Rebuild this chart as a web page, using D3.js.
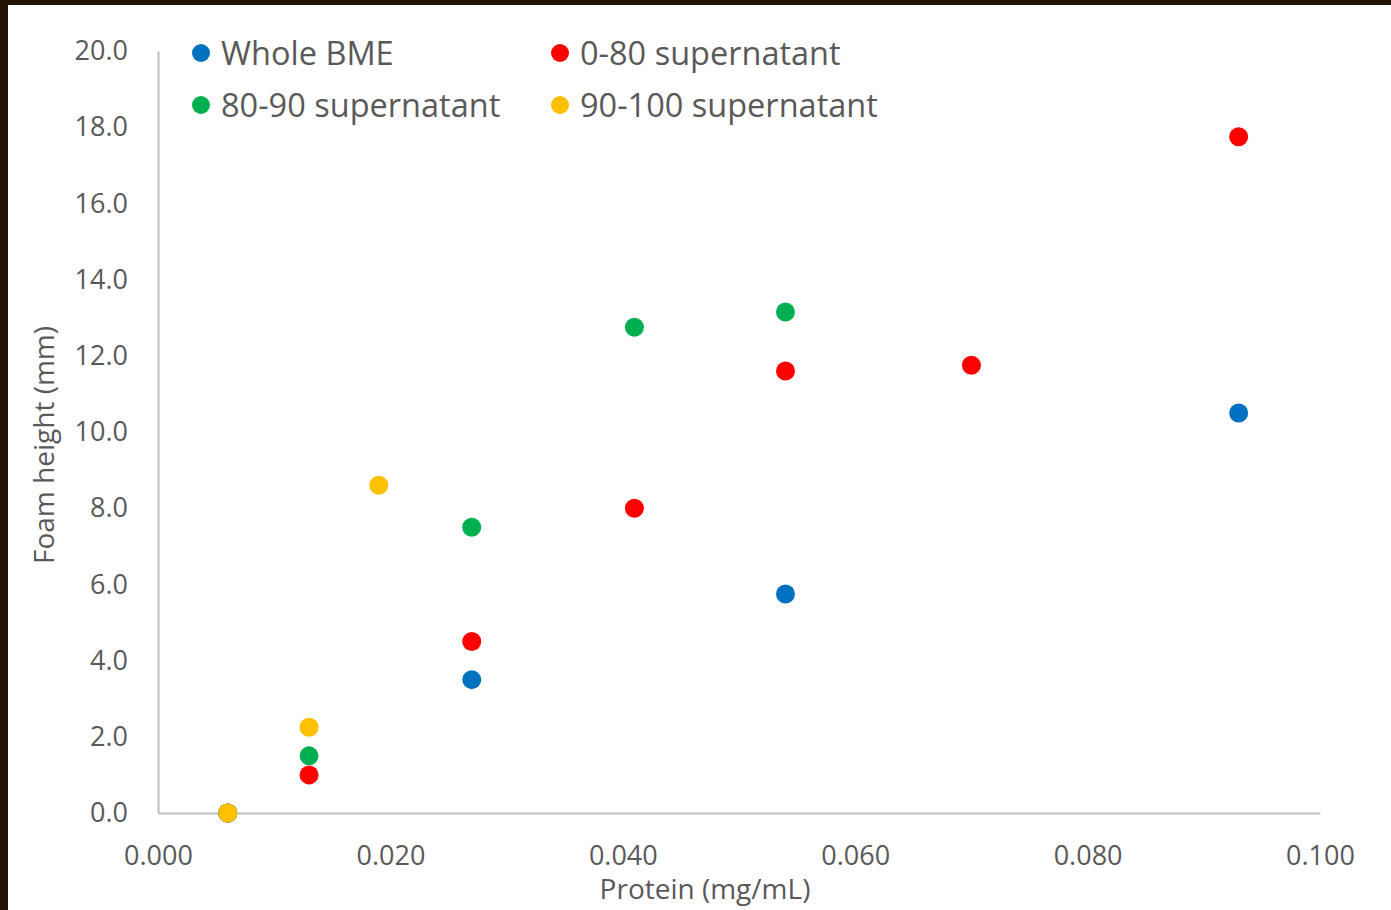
<!DOCTYPE html>
<html>
<head>
<meta charset="utf-8">
<script src="https://cdn.jsdelivr.net/npm/d3@7"></script>
<style>
  body { margin: 0; background: #fff; }
  svg text { font-family: "Open Sans", "Noto Sans", sans-serif; fill: #595959; }
</style>
</head>
<body>
<script>
const width = 1391;
const height = 910;

// series data: [protein mg/mL, foam height mm]
const seriesNames = ['Whole BME', '0-80 supernatant', '80-90 supernatant', '90-100 supernatant'];
const seriesColors = ['#0070C0', '#FF0000', '#00B050', '#FFC000'];
const wholeBME = [[0.006, 0], [0.027, 3.5], [0.054, 5.75], [0.093, 10.5]];
const sup0to80 = [[0.006, 0], [0.013, 1.0], [0.027, 4.5], [0.041, 8.0], [0.054, 11.6], [0.070, 11.75], [0.093, 17.75]];
const sup80to90 = [[0.006, 0], [0.013, 1.5], [0.027, 7.5], [0.041, 12.75], [0.054, 13.15]];
const sup90to100 = [[0.006, 0], [0.013, 2.25], [0.019, 8.6]];
const xTicks = [0, 0.02, 0.04, 0.06, 0.08, 0.1];
const yTicks = [0, 2, 4, 6, 8, 10, 12, 14, 16, 18, 20];

const allSeries = [wholeBME, sup0to80, sup80to90, sup90to100];

const svg = d3.select('body')
    .append('svg')
        .attr('width', width)
        .attr('height', height);

//dark frame on top & left
svg.append('rect').attr('x', 0).attr('y', 0).attr('width', width).attr('height', 5).attr('fill', '#221304');
svg.append('rect').attr('x', 0).attr('y', 0).attr('width', 8).attr('height', height).attr('fill', '#221304');

//scales
const xScale = d3.scaleLinear().domain([0, 0.1]).range([158, 1320]);
const yScale = d3.scaleLinear().domain([0, 20]).range([813, 51]);

//x axis
const xAxis = svg.append('g')
    .attr('transform', `translate(0, ${yScale(0)})`)
    .call(d3.axisBottom(xScale).tickValues(xTicks).tickFormat(d3.format('.3f')).tickSize(0).tickPadding(33));
xAxis.select('.domain').attr('stroke', '#bfbfbf').attr('stroke-width', 2);
xAxis.selectAll('text').style('font-size', '27px').attr('fill', '#595959');

//y axis
const yAxis = svg.append('g')
    .attr('transform', `translate(${xScale(0)}, 0)`)
    .call(d3.axisLeft(yScale).tickValues(yTicks).tickFormat(d3.format('.1f')).tickSize(0).tickPadding(30));
yAxis.select('.domain').attr('stroke', '#bfbfbf').attr('stroke-width', 2);
yAxis.selectAll('text').style('font-size', '27px').attr('fill', '#595959');

//axis titles
svg.append('text')
    .attr('x', 705)
    .attr('y', 899)
    .attr('text-anchor', 'middle')
    .style('font-size', '28px')
    .text('Protein (mg/mL)');
svg.append('text')
    .attr('transform', 'rotate(-90)')
    .attr('x', -445)
    .attr('y', 54)
    .attr('text-anchor', 'middle')
    .style('font-size', '28px')
    .text('Foam height (mm)');

//points
allSeries.forEach((data, i) => {
    svg.append('g')
        .selectAll('circle')
        .data(data)
        .enter()
        .append('circle')
            .attr('cx', d => xScale(d[0]))
            .attr('cy', d => yScale(d[1]))
            .attr('r', 9.5)
            .attr('fill', seriesColors[i]);
});

//legend
const legendPos = [[201, 53], [560, 53], [201, 105], [560, 105]];
seriesNames.forEach((name, i) => {
    const g = svg.append('g').attr('transform', `translate(${legendPos[i][0]}, ${legendPos[i][1]})`);
    g.append('circle').attr('r', 9).attr('fill', seriesColors[i]);
    g.append('text')
        .attr('x', 20)
        .attr('y', 1)
        .attr('dy', '0.35em')
        .style('font-size', '32.5px')
        .text(name);
});
</script>
</body>
</html>
